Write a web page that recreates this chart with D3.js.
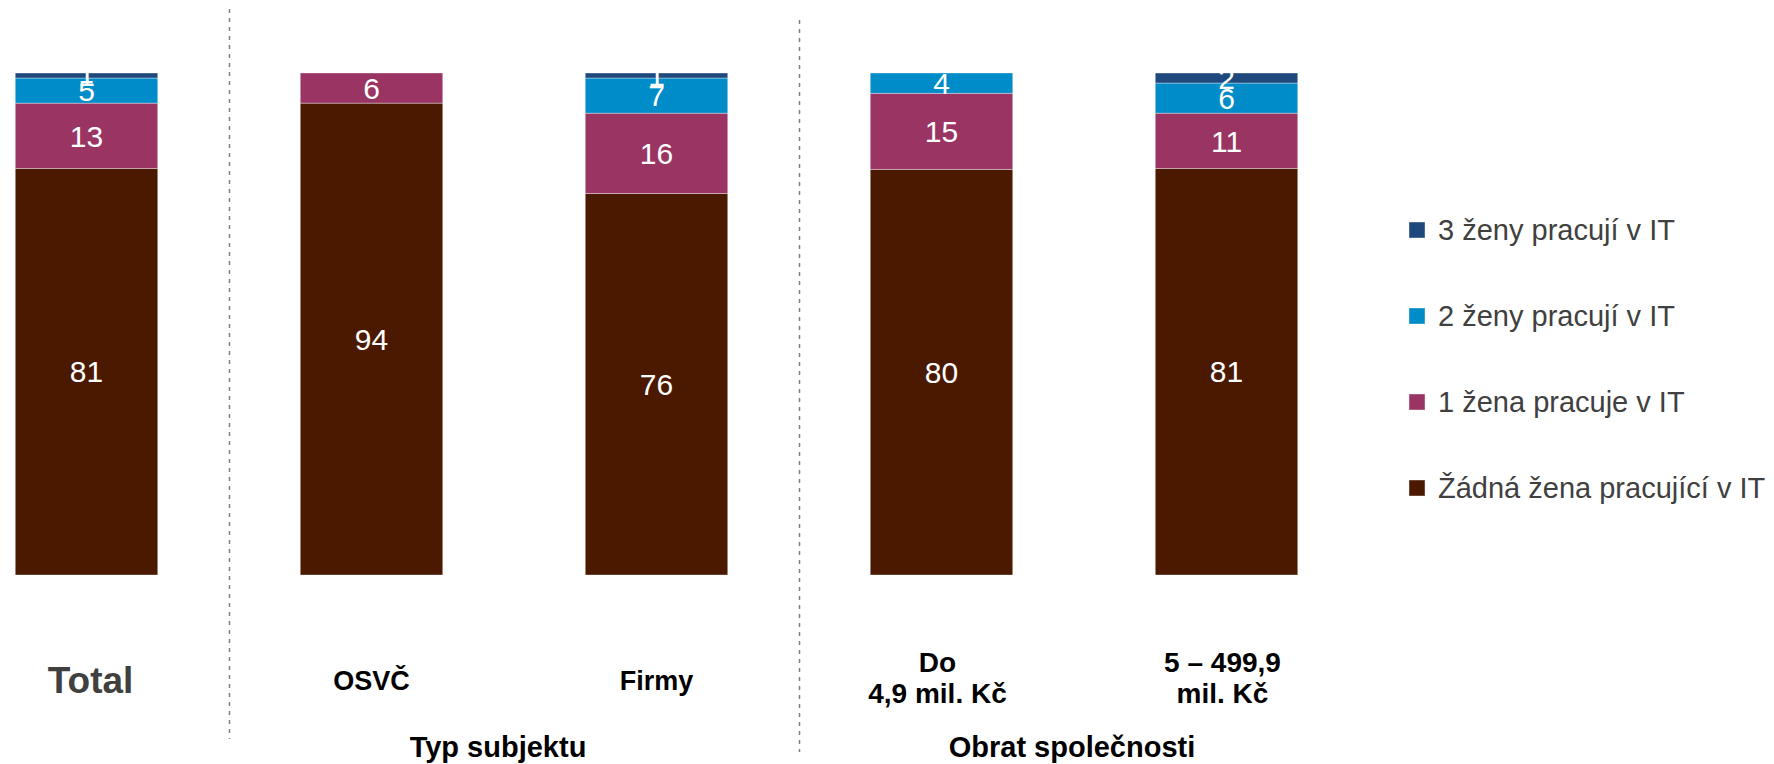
<!DOCTYPE html>
<html><head><meta charset="utf-8">
<script src="https://cdn.jsdelivr.net/npm/d3@7"></script>
<style>
body{margin:0;background:#fff;}
svg{display:block;}
</style></head>
<body>
<svg id="chart" width="1774" height="764"></svg>
<script>
const categories = ["Total", "OSVČ", "Firmy", "Do 4,9 mil. Kč", "5 – 499,9 mil. Kč"];
const categoryLines = [["Total"], ["OSVČ"], ["Firmy"], ["Do", "4,9 mil. Kč"], ["5 – 499,9", "mil. Kč"]];
const seriesNames = ["Žádná žena pracující v IT", "1 žena pracuje v IT", "2 ženy pracují v IT", "3 ženy pracují v IT"];
const zadna = [81, 94, 76, 80, 81];
const jedna = [13, 6, 16, 15, 11];
const dve   = [5, 0, 7, 4, 6];
const tri   = [1, 0, 1, 0, 2];
const groups = [
  {name: "Typ subjektu", members: ["OSVČ", "Firmy"]},
  {name: "Obrat společnosti", members: ["Do 4,9 mil. Kč", "5 – 499,9 mil. Kč"]}
];
const colors = ["#4B1900", "#9A3462", "#008BC9", "#1F497D"];

const seriesValues = [zadna, jedna, dve, tri];
const rows = categories.map((c, i) => {
  const r = {cat: c};
  seriesNames.forEach((s, j) => r[s] = seriesValues[j][i]);
  return r;
});

const FONT = "'Liberation Sans', Arial, sans-serif";
const svg = d3.select("#chart");
const x = d3.scaleBand().domain(categories).range([1, 1312]).paddingInner(0.5).paddingOuter(0.05);
const y = d3.scaleLinear().domain([0, 1]).range([575, 73]);
const color = d3.scaleOrdinal().domain(seriesNames).range(colors);

const stacked = d3.stack().keys(seriesNames).offset(d3.stackOffsetExpand)(rows);

const layer = svg.append("g").selectAll("g").data(stacked).join("g")
  .attr("fill", d => color(d.key));
layer.selectAll("rect").data(d => d.map(p => ({p, key: d.key}))).join("rect")
  .attr("x", d => x(d.p.data.cat))
  .attr("width", x.bandwidth())
  .attr("y", d => y(d.p[1]))
  .attr("height", d => y(d.p[0]) - y(d.p[1]))
  .attr("stroke", "#ffffff").attr("stroke-opacity", 0.45).attr("stroke-width", 0.8);

// value labels
layer.selectAll("text").data(d => d.map(p => ({p, key: d.key}))).join("text")
  .filter(d => d.p.data[d.key] > 0)
  .attr("x", d => x(d.p.data.cat) + x.bandwidth() / 2)
  .attr("y", d => y((d.p[0] + d.p[1]) / 2))
  .attr("dy", "0.36em")
  .attr("text-anchor", "middle")
  .attr("fill", "#ffffff")
  .attr("font-family", FONT)
  .attr("font-size", 30)
  .text(d => d.p.data[d.key]);

// category labels
categories.forEach((c, i) => {
  const cx = x(c) + x.bandwidth() / 2;
  const lines = categoryLines[i];
  const t = svg.append("text")
    .attr("text-anchor", "middle")
    .attr("font-family", FONT)
    .attr("font-weight", "bold");
  if (i === 0) {
    t.attr("font-size", 37).attr("fill", "#404040")
     .attr("x", cx + 4).attr("y", 693).text(lines[0]);
  } else if (lines.length === 1) {
    t.attr("font-size", 27).attr("fill", "#000")
     .attr("x", cx).attr("y", 690).text(lines[0]);
  } else {
    t.attr("font-size", 28).attr("fill", "#000");
    lines.forEach((l, k) => t.append("tspan").attr("x", cx - 4).attr("y", 672 + k * 31).text(l));
  }
});

// group labels
const groupShift = [-16, -12];
groups.forEach((g, gi) => {
  const cs = g.members.map(m => x(m) + x.bandwidth() / 2);
  svg.append("text")
    .attr("x", d3.mean(cs) + groupShift[gi]).attr("y", 757)
    .attr("text-anchor", "middle")
    .attr("font-weight", "bold")
    .attr("font-family", FONT)
    .attr("font-size", 29)
    .attr("fill", "#000")
    .text(g.name);
});

// separators
const sepPairs = [["Total", "OSVČ", 9, 739], ["Firmy", "Do 4,9 mil. Kč", 20, 752]];
sepPairs.forEach(([a, b, y1, y2]) => {
  const sx = Math.round((x(a) + x.bandwidth() + x(b)) / 2) + 0.5;
  svg.append("line")
    .attr("x1", sx).attr("x2", sx).attr("y1", y1).attr("y2", y2)
    .attr("stroke", "#7f7f7f").attr("stroke-width", 1.5)
    .attr("stroke-dasharray", "4,5");
});

// legend
const legendOrder = seriesNames.slice().reverse();
const lg = svg.append("g").attr("transform", "translate(1409,230)");
legendOrder.forEach((s, i) => {
  const g = lg.append("g").attr("transform", `translate(0,${i * 86})`);
  g.append("rect").attr("x", 0).attr("y", -8).attr("width", 16).attr("height", 16)
    .attr("fill", color(s)).attr("stroke", "#ffffff").attr("stroke-opacity", 0.4);
  g.append("text").attr("x", 29).attr("y", 0).attr("dy", "0.36em")
    .attr("font-family", FONT)
    .attr("font-size", 29).attr("fill", "#404040").text(s);
});
</script>
</body></html>
